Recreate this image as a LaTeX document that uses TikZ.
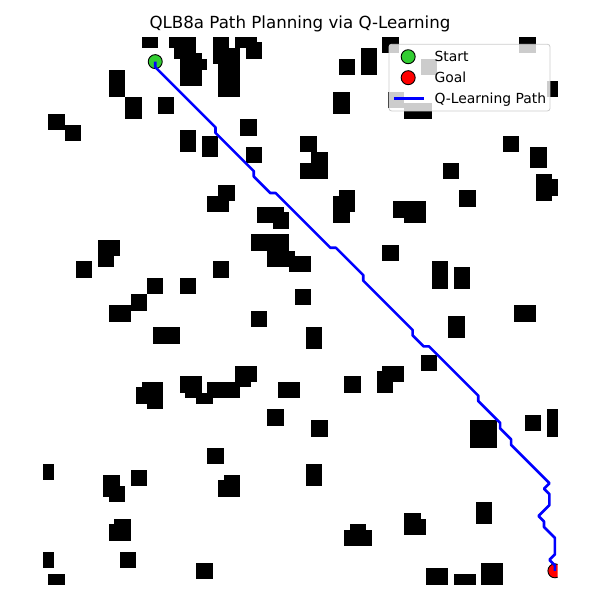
\documentclass[tikz,border=0pt]{standalone}
\usepackage{fontspec}
\setmainfont{DejaVu Sans}
\definecolor{startgreen}{HTML}{32CD32}
\definecolor{goalred}{HTML}{FF0000}
\definecolor{pathblue}{HTML}{0000FF}
\definecolor{legendedge}{HTML}{CCCCCC}
\begin{document}
\begin{tikzpicture}[x=5.475pt,y=-5.475pt,
  obstacle/.style={fill=black},
  qpath/.style={draw=pathblue,line width=2.6pt,line join=round},
  marker/.style={circle,draw=black,line width=0.9pt,minimum size=14pt,inner sep=0pt},
  legtext/.style={anchor=base west,inner sep=0pt,font=\fontsize{13.9pt}{16pt}\selectfont},
  titletext/.style={anchor=base,inner sep=0pt,font=\fontsize{16.67pt}{20pt}\selectfont}]
\useasboundingbox (-7.854,-6.758) rectangle (101.735,102.831);
% obstacles
\foreach \a/\b/\c/\d in {
18/0/21/2, 23/0/28/2, 24/2/28/3, 24/3/29/4, 25/4/30/6, 25/6/29/9,
31/0/34/5, 35/0/39/2, 37/1/40/4, 32/2/36/11, 12/6/15/11, 15/11/18/15,
21/11/24/14, 1/14/4/17, 4/16/7/19, 25/17/28/21, 29/18/32/22, 36/15/39/18,
37/20/40/23, 62/0/65/3, 58/2/61/7, 54/4/57/7, 53/10/56/14, 87/0/90/3,
69/4/72/7, 63/10/66/13, 66/12/71/15, 92/8/94/11, 47/18/50/21, 49/21/52/26,
47/23/49/26, 73/23/76/26, 84/18/87/21, 89/20/92/24, 90/25/93/30, 93/26/94/29,
54/28/57/32, 53/29/56/34, 64/30/70/33, 66/33/70/34, 76/28/79/31, 62/38/65/41,
71/41/74/46, 75/42/78/46, 46/46/49/49, 32/27/35/30, 30/29/34/32, 39/31/44/34,
42/32/45/35, 38/36/45/39, 41/39/46/42, 45/40/49/43, 10/37/14/40, 10/40/13/42,
6/41/9/44, 31/41/34/44, 19/44/22/47, 25/44/28/47, 16/47/19/50, 12/49/16/52,
38/50/41/53, 20/53/25/56, 35/60/39/63, 35/63/38/64, 18/63/22/64, 17/64/22/67,
19/67/22/68, 25/62/29/65, 26/65/31/66, 28/66/31/67, 30/63/36/66, 43/63/47/66,
41/68/44/71, 48/53/51/57, 74/51/77/55, 86/49/90/52, 69/58/72/61, 62/60/66/63,
61/61/64/65, 55/62/58/65, 49/70/52/73, 78/70/83/75, 88/69/91/72, 92/68/94/73,
30/75/33/78, 0/78/2/81, 11/80/14/84, 12/82/15/85, 16/79/19/82, 33/80/36/84,
32/81/33/84, 13/88/16/92, 12/89/13/92, 0/94/2/97, 14/94/17/97, 1/98/4/100,
28/96/31/99, 48/78/51/82, 79/85/82/89, 66/87/69/91, 69/88/70/91, 56/89/59/90,
55/90/60/93, 70/97/74/100, 75/98/79/100, 80/96/84/100}
  \fill[obstacle] (\a,\b) rectangle (\c,\d);
% markers and path, clipped to the axes
\begin{scope}
\clip (0,0) rectangle (94,100);
\node[marker,fill=startgreen] (start) at (20.5,4.5) {};
\node[marker,fill=goalred] (goal) at (93.5,97.5) {};
\draw[qpath,shift={(0.5,0.5)}] (20,4) -- (20,5) -- (31,16) -- (31,17) -- (38,24) -- (38,25)
  -- (41,28) -- (42,28) -- (52,38) -- (53,38) -- (58,43) -- (58,44) -- (67,53) -- (67,54)
  -- (69,56) -- (70,56) -- (79,65) -- (79,66) -- (83,70) -- (83,71) -- (85,73) -- (85,74)
  -- (92,81) -- (91,82) -- (92,83) -- (92,85) -- (90,87) -- (91,88) -- (91,89) -- (93,91)
  -- (93,94) -- (92,95) -- (93,96) -- (93,97);
\end{scope}
% legend
\draw[draw=legendedge,fill=white,fill opacity=0.8,rounded corners=2.5pt,line width=0.8pt]
  (63.2,1.33) rectangle (92.6,13.5);
\node[marker,fill=startgreen] (legstart) at (66.7,3.6) {};
\node[marker,fill=goalred] (leggoal) at (66.7,7.43) {};
\coordinate (legl) at (64.16,11.2);
\coordinate (legr) at (69.6,11.2);
\draw[qpath] (legl) -- (legr);
\node[legtext] (tstart) at (71.47,4.5) {Start};
\node[legtext] (tgoal) at (71.47,8.35) {Goal};
\node[legtext] (tpath) at (71.47,12.11) {Q-Learning Path};
% title
\node[titletext] (title) at (46.94,-1.64) {QLB8a Path Planning via Q-Learning};
\end{tikzpicture}
\end{document}
